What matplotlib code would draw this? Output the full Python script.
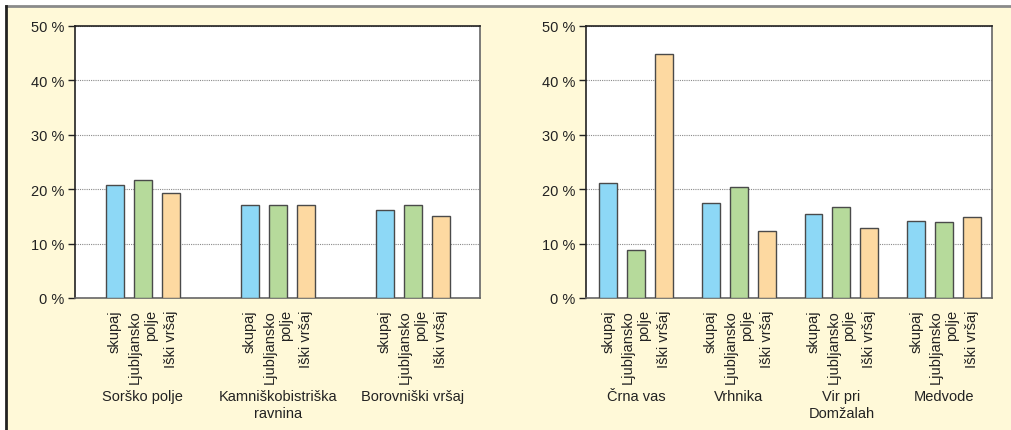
import numpy as np
import matplotlib.pyplot as plt
from matplotlib.patches import Rectangle
from matplotlib.lines import Line2D
from matplotlib.transforms import blended_transform_factory

plt.rcParams['font.family'] = ['Liberation Sans', 'DejaVu Sans']

# share of each sample (percent): skupaj, Ljubljansko polje, Iški vršaj
series_labels = ['skupaj', 'Ljubljansko\npolje', 'Iški vršaj']
colors = ['#8dd8f6', '#b6da9b', '#fdd9a1']

left_groups = ['Sorško polje', 'Kamniškobistriška\nravnina', 'Borovniški vršaj']
left_skupaj = [20.8, 17.1, 16.2]
left_ljubljansko = [21.6, 17.1, 17.1]
left_iski = [19.3, 17.1, 15.1]

right_groups = ['Črna vas', 'Vrhnika', 'Vir pri\nDomžalah', 'Medvode']
right_skupaj = [21.1, 17.5, 15.4, 14.1]
right_ljubljansko = [8.9, 20.4, 16.7, 13.9]
right_iski = [44.9, 12.3, 12.9, 14.8]

W, H = 1012, 431
fig = plt.figure(figsize=(W / 100, H / 100), dpi=100, facecolor='white')

# cream panel behind both charts
fig.add_artist(Rectangle((6 / W, 0), 1 - 6 / W, 1 - 7 / H, transform=fig.transFigure,
                         facecolor='#fff9d8', edgecolor='none', zorder=-10))
fig.add_artist(Line2D([6 / W, 1], [1 - 7 / H, 1 - 7 / H], transform=fig.transFigure,
                      color='#8a8a8a', lw=2, zorder=-9))
fig.add_artist(Line2D([6.5 / W, 6.5 / W], [0, 1 - 7 / H], transform=fig.transFigure,
                      color='#222222', lw=2, zorder=-9))


def draw_panel(rect, groups, values, xlim, bar_w, step):
    ax = fig.add_axes(rect)
    ax.set_facecolor('white')
    x = np.arange(len(groups))
    ticks, labels = [], []
    for i, vals in enumerate(values):
        pos = x + (i - 1) * step
        ax.bar(pos, vals, width=bar_w, color=colors[i], edgecolor='#4a4a4a',
               linewidth=1.0, zorder=3)
        ticks.extend(pos)
        labels.extend([series_labels[i]] * len(groups))
    ax.set_xticks(ticks)
    ax.set_xticklabels(labels, rotation=90, va='top', ha='center',
                       multialignment='right', fontsize=10.5, color='#222222')
    ax.tick_params(axis='x', length=0, pad=8)
    ax.set_xlim(*xlim)
    ax.set_ylim(0, 50)
    ax.set_yticks(range(0, 51, 10))
    ax.set_yticklabels([f'{v} %' for v in range(0, 51, 10)], fontsize=10.5, color='#222222')
    ax.tick_params(axis='y', length=5, width=1, color='#222222', pad=3)
    ax.yaxis.grid(True, linestyle=(0, (1, 1)), color='#8a8a8a', lw=0.8, zorder=1)
    for s in ['left', 'top']:
        ax.spines[s].set_color('#222222')
    for s in ['right', 'bottom']:
        ax.spines[s].set_color('#666666')
    for s in ax.spines.values():
        s.set_linewidth(1.2)
    trans = blended_transform_factory(ax.transData, ax.transAxes)
    for xi, g in zip(x, groups):
        ax.text(xi, -0.335, g, transform=trans, ha='center', va='top',
                fontsize=10.5, color='#222222', linespacing=1.3)
    return ax


bottom = (H - 299) / H
height = (299 - 27) / H

draw_panel([75.5 / W, bottom, (480 - 75.5) / W, height], left_groups,
           [left_skupaj, left_ljubljansko, left_iski], (-0.5, 2.5), 0.134, 0.208)
draw_panel([586 / W, bottom, (992 - 586) / W, height], right_groups,
           [right_skupaj, right_ljubljansko, right_iski], (-0.487, 3.466), 0.175, 0.272)

fig.savefig('out.png', dpi=100, facecolor=fig.get_facecolor())
